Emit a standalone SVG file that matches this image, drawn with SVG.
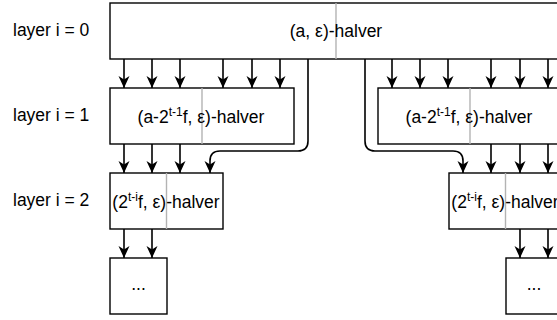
<svg xmlns="http://www.w3.org/2000/svg" width="557" height="320" viewBox="0 0 557 320">
  <style>
    .box { fill: #ffffff; stroke: #000000; stroke-width: 1.4; }
    .div { stroke: #b3b3b3; stroke-width: 1.4; }
    .lbl { font-family: "Liberation Sans", Arial, Helvetica, sans-serif; font-size: 17.5px; fill: #000000; }
    .mid { text-anchor: middle; }
    .sup { font-size: 12px; }
    .edge { fill: none; stroke: #000000; stroke-width: 1.6; marker-end: url(#arrow); }
  </style>
  <defs>
    <marker id="arrow" viewBox="0 0 12 12" refX="12" refY="6" markerWidth="12" markerHeight="12" markerUnits="userSpaceOnUse" orient="auto">
      <path d="M0,0.5 L12,6 L0,11.5 L3.5,6 Z" fill="#000000"/>
    </marker>
  </defs>
  <rect width="557" height="320" fill="#ffffff"/>

  <!-- layer labels -->
  <g id="labels">
    <text class="lbl" x="13" y="36">layer i = 0</text>
    <text class="lbl" x="13" y="121">layer i = 1</text>
    <text class="lbl" x="13" y="206">layer i = 2</text>
  </g>

  <!-- layer 0 -->
  <g id="halver-0">
    <rect class="box" x="110" y="3" width="452" height="56"/>
    <line class="div" x1="336" y1="3" x2="336" y2="59"/>
    <text class="lbl mid" x="336" y="37">(a, ε)-halver</text>
  </g>

  <!-- layer 1 -->
  <g id="halver-1-left">
    <rect class="box" x="110" y="88" width="184" height="56"/>
    <line class="div" x1="202" y1="88" x2="202" y2="144"/>
    <text class="lbl mid" x="201" y="123">(a-2<tspan class="sup" dy="-7">t-1</tspan><tspan dy="7">f, ε)-halver</tspan></text>
  </g>
  <g id="halver-1-right">
    <rect class="box" x="378" y="88" width="184" height="56"/>
    <line class="div" x1="470" y1="88" x2="470" y2="144"/>
    <text class="lbl mid" x="469" y="123">(a-2<tspan class="sup" dy="-7">t-1</tspan><tspan dy="7">f, ε)-halver</tspan></text>
  </g>

  <!-- layer 2 -->
  <g id="halver-2-left">
    <rect class="box" x="110" y="173" width="113" height="56"/>
    <line class="div" x1="166.5" y1="173" x2="166.5" y2="229"/>
    <text class="lbl mid" x="166" y="208">(2<tspan class="sup" dy="-7">t-i</tspan><tspan dy="7">f, ε)-halver</tspan></text>
  </g>
  <g id="halver-2-right">
    <rect class="box" x="449" y="173" width="113" height="56"/>
    <line class="div" x1="505.5" y1="173" x2="505.5" y2="229"/>
    <text class="lbl mid" x="505" y="208">(2<tspan class="sup" dy="-7">t-i</tspan><tspan dy="7">f, ε)-halver</tspan></text>
  </g>

  <!-- layer 3 -->
  <g id="rest-left">
    <rect class="box" x="110" y="258" width="57" height="56"/>
    <text class="lbl mid" x="138.5" y="290">...</text>
  </g>
  <g id="rest-right">
    <rect class="box" x="506" y="258" width="56" height="56"/>
    <text class="lbl mid" x="534" y="290">...</text>
  </g>

  <g id="connectors">
    <!-- layer 0 to layer 1 -->
    <path class="edge" d="M124,59 V88"/>
    <path class="edge" d="M152,59 V88"/>
    <path class="edge" d="M180,59 V88"/>
    <path class="edge" d="M223,59 V88"/>
    <path class="edge" d="M252,59 V88"/>
    <path class="edge" d="M280,59 V88"/>
    <path class="edge" d="M392,59 V88"/>
    <path class="edge" d="M420,59 V88"/>
    <path class="edge" d="M448,59 V88"/>
    <path class="edge" d="M491,59 V88"/>
    <path class="edge" d="M520,59 V88"/>
    <path class="edge" d="M548,59 V88"/>
    <!-- pass-through wires from layer 0 to layer 2 -->
    <path class="edge" d="M308,59 V141 Q308,151 298,151 H220 Q210,151 210,161 V173"/>
    <path class="edge" d="M365,59 V141 Q365,151 375,151 H453 Q463,151 463,161 V173"/>
    <!-- layer 1 to layer 2 -->
    <path class="edge" d="M124,144 V173"/>
    <path class="edge" d="M152,144 V173"/>
    <path class="edge" d="M180,144 V173"/>
    <path class="edge" d="M491,144 V173"/>
    <path class="edge" d="M520,144 V173"/>
    <path class="edge" d="M548,144 V173"/>
    <!-- layer 2 to layer 3 -->
    <path class="edge" d="M124,229 V258"/>
    <path class="edge" d="M152,229 V258"/>
    <path class="edge" d="M520,229 V258"/>
    <path class="edge" d="M548,229 V258"/>
  </g>
</svg>
